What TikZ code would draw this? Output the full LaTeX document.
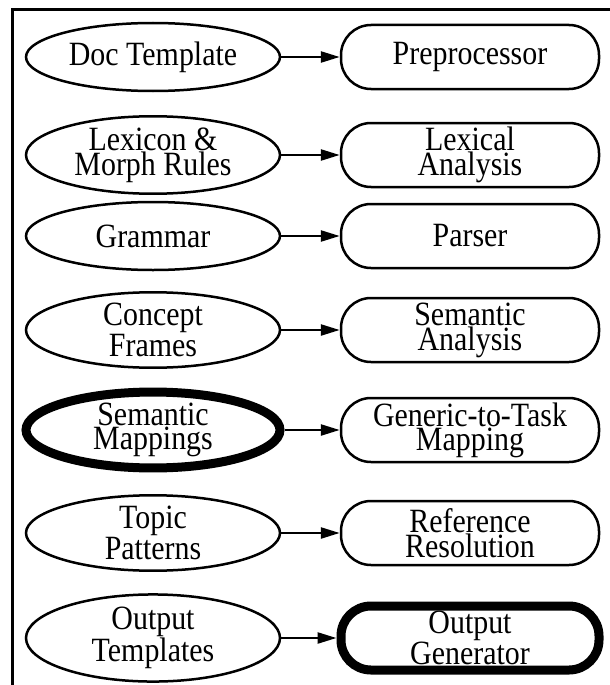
\documentclass[tikz,border=0pt]{standalone}
\usepackage{fontspec}
\setmainfont[FakeStretch = 0.88]{Liberation Serif}
\usetikzlibrary{arrows.meta}
\usetikzlibrary{shapes.geometric}

\begin{document}
\begin{tikzpicture}[x=1pt, y=-1pt]
		\tikzset{source/.style={shape = ellipse, draw, line width = 2.5pt, inner sep = 0pt,
				minimum width = 254pt, minimum height = 68pt, align = center,
				font = \fontsize{34}{22}\selectfont}}
		\tikzset{stage/.style={shape = rectangle, rounded corners = 30pt, draw, line width = 2.5pt,
				inner sep = 0pt, minimum width = 258pt, minimum height = 64pt, align = center,
				font = \fontsize{34}{22}\selectfont}}
		\tikzset{heavy/.style={line width = 9pt}}
		\tikzset{edge/.style={-{Triangle[length = 19pt, width = 11pt]}, line width = 2.5pt}}
		\useasboundingbox (0, 0) rectangle (610, 685);
		%frame
		\draw[line width = 3pt] (12, 685) -- (12, 10) -- (610, 10);
		%vertices
		\node[source] (doc) at (153, 57) {Doc Template};
		\node[stage] (pre) at (470, 57) {Preprocessor};
		\node[source] (lex) at (153, 155) {Lexicon \&\\Morph Rules};
		\node[stage] (lexan) at (470, 155) {Lexical\\Analysis};
		\node[source] (gram) at (153, 236) {Grammar};
		\node[stage] (parser) at (470, 236) {Parser};
		\node[source] (concept) at (153, 330) {Concept\\Frames};
		\node[stage] (seman) at (470, 330) {Semantic\\Analysis};
		\node[source, heavy] (mapping) at (153, 430) {Semantic\\Mappings};
		\node[stage] (generic) at (470, 430) {Generic-to-Task\\Mapping};
		\node[source] (topic) at (153, 533) {Topic\\Patterns};
		\node[stage] (refres) at (470, 533) {Reference\\Resolution};
		\node[source] (outtmp) at (153, 638) {Output\\Templates};
		\node[stage, heavy] (outgen) at (470, 638) {Output\\Generator};
		%edges
		\draw[edge] (doc) -- (pre);
		\draw[edge] (lex) -- (lexan);
		\draw[edge] (gram) -- (parser);
		\draw[edge] (concept) -- (seman);
		\draw[edge] (mapping) -- (generic);
		\draw[edge] (topic) -- (refres);
		\draw[edge] (outtmp) -- (outgen);
\end{tikzpicture}
\end{document}
